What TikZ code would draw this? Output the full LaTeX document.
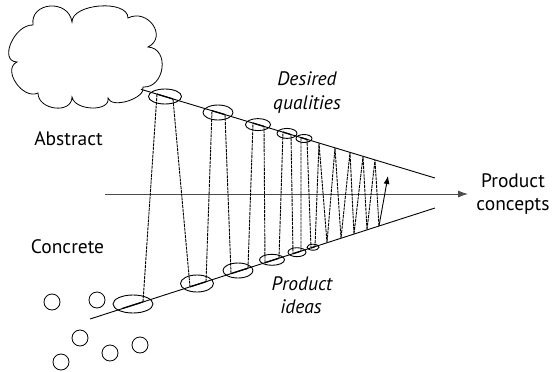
\documentclass[tikz,border=0pt]{standalone}
\usepackage{fontspec}
\setmainfont{PT Sans}
\usetikzlibrary{shapes.geometric,arrows.meta}
\begin{document}
\begin{tikzpicture}[x=1pt,y=-1pt,
  guide/.style={line width=0.9pt},
  zig/.style={line width=0.9pt,dash pattern=on 3pt off 0.8pt},
  seg/.style={line width=1.3pt},
  oval/.style={ellipse,draw,line width=0.9pt,inner sep=0pt},
  dot/.style={circle,draw,line width=0.8pt,minimum size=16pt,inner sep=0pt},
  lbl/.style={anchor=base,font=\fontsize{19.5}{22}\selectfont},
  ilbl/.style={anchor=base,font=\fontsize{19.5}{22}\selectfont\itshape}]
\useasboundingbox (0,0) rectangle (554,372);
% cloud
\draw[line width=0.8pt] (143,87)
  .. controls (165,88.3) and (170,48.3) .. (148,47)
  .. controls (168,37) and (148,8) .. (128,18)
  .. controls (128,-0.7) and (72,3.3) .. (72,22)
  .. controls (68.7,-1.3) and (29.7,1.7) .. (33,25)
  .. controls (14.3,24.3) and (-1.7,61.3) .. (17,62)
  .. controls (1.7,69.3) and (22.7,100.3) .. (38,93)
  .. controls (38,110.3) and (72,114.3) .. (72,97)
  .. controls (74.7,111) and (110.7,112) .. (108,98)
  .. controls (111.3,109.3) and (146.3,98.3) .. (143,87) -- cycle;
% guide lines
\coordinate (ua) at (141,89.3);
\coordinate (ub) at (435,178);
\coordinate (la) at (90,319);
\coordinate (lb) at (435,208);
\coordinate (ha) at (105,194);
\coordinate (hb) at (468,194);
\draw[guide] (ua) -- (ub);
\draw[guide] (la) -- (lb);
\draw[line width=0.9pt,black!70,-{Latex[length=10pt,width=7pt]}] (ha) -- (hb);
% ellipses upper
\node[oval,minimum width=33pt,minimum height=15pt] (u1) at (165,96.5) {};
\node[oval,minimum width=30pt,minimum height=15pt] (u2) at (218,112.5) {};
\node[oval,minimum width=25pt,minimum height=12pt] (u3) at (258,124.6) {};
\node[oval,minimum width=20pt,minimum height=10pt] (u4) at (287,133.4) {};
\node[oval,minimum width=16pt,minimum height=8pt] (u5) at (304,138.5) {};
% ellipses lower
\node[oval,minimum width=40pt,minimum height=18pt] (l1) at (133,304) {};
\node[oval,minimum width=33pt,minimum height=17pt] (l2) at (197,283.5) {};
\node[oval,minimum width=30pt,minimum height=15pt] (l3) at (238,270.5) {};
\node[oval,minimum width=25pt,minimum height=11pt] (l4) at (272,259.8) {};
\node[oval,minimum width=18pt,minimum height=9pt] (l5) at (297,252.2) {};
\node[oval,minimum width=12pt,minimum height=6pt] (l6) at (313,247.2) {};
% zigzag vertices
\coordinate (z0) at (143,301.9);
\coordinate (a1) at (157,94.1);  \coordinate (b1) at (173,99.0);
\coordinate (c1) at (190,286.8); \coordinate (d1) at (206,281.7);
\coordinate (a2) at (212,110.7); \coordinate (b2) at (225,114.6);
\coordinate (c2) at (231,273.6); \coordinate (d2) at (248,268.2);
\coordinate (a3) at (253,123.1); \coordinate (b3) at (264,126.4);
\coordinate (c3) at (265,262.7); \coordinate (d3) at (279,258.2);
\coordinate (a4) at (283,132.1); \coordinate (b4) at (291,134.6);
\coordinate (c4) at (293,253.7); \coordinate (d4) at (301,251.1);
\coordinate (a5) at (301,137.6); \coordinate (b5) at (307,139.4);
\coordinate (c5) at (311,247.9); \coordinate (d5) at (315,246.6);
\coordinate (p1) at (319,143.0); \coordinate (q1) at (327,242.8);
\coordinate (p2) at (335,147.8); \coordinate (q2) at (341,238.3);
\coordinate (p3) at (350,152.4); \coordinate (q3) at (354,234.1);
\coordinate (p4) at (363,156.3); \coordinate (q4) at (367,229.9);
\coordinate (p5) at (375,159.9); \coordinate (q5) at (379,226.0);
\coordinate (tip) at (388,176);
\coordinate (z00) at (122,308.6);
% thick segments inside ellipses
\draw[seg] (z00) -- (z0);
\foreach \a/\b in {a1/b1,c1/d1,a2/b2,c2/d2,a3/b3,c3/d3,a4/b4,c4/d4,a5/b5,c5/d5}
  \draw[seg] (\a) -- (\b);
% zigzag
\draw[zig] (z0) -- (a1) (b1) -- (c1) (d1) -- (a2) (b2) -- (c2) (d2) -- (a3)
  (b3) -- (c3) (d3) -- (a4) (b4) -- (c4) (d4) -- (a5) (b5) -- (c5) (d5) -- (p1)
  -- (q1) -- (p2) -- (q2) -- (p3) -- (q3) -- (p4) -- (q4) -- (p5) -- (q5);
\draw[line width=0.9pt,-{Latex[length=8pt,width=6pt]}] (q5) -- (tip);
% circles
\node[dot] (o1) at (52,302) {};
\node[dot] (o2) at (97,300) {};
\node[dot] (o3) at (80,338) {};
\node[dot] (o4) at (61,362) {};
\node[dot] (o5) at (110,353) {};
\node[dot] (o6) at (140,345) {};
% labels
\node[lbl] (abs) at (68.5,145) {Abstract};
\node[lbl] (con) at (67.5,253) {Concrete};
\node[ilbl] (des) at (307,85) {Desired};
\node[ilbl] (qua) at (307,109) {qualities};
\node[ilbl] (pri) at (302,290) {Product};
\node[ilbl] (ide) at (301,313) {ideas};
\node[lbl] (prc) at (513,187) {Product};
\node[lbl] (cnc) at (513,210) {concepts};
\end{tikzpicture}
\end{document}
